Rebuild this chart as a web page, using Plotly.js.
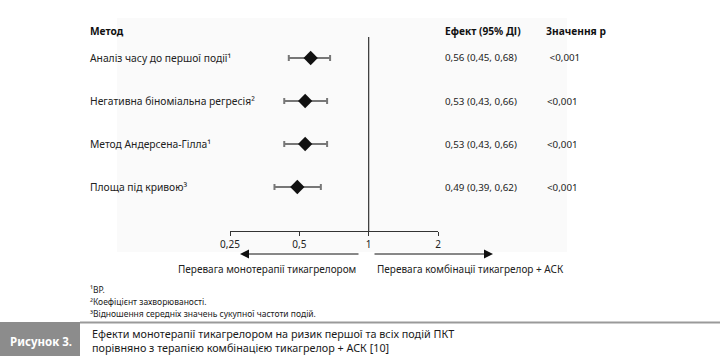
<!DOCTYPE html>
<html>
<head>
<meta charset="utf-8">
<script src="https://cdn.plot.ly/plotly-3.0.1.min.js"></script>
<style>html,body{margin:0;padding:0;background:#fff;}#chart{width:720px;height:356px;}</style>
</head>
<body>
<div id="chart"></div>
<script>
// ---- data ----
const methods = ["Аналіз часу до першої події¹", "Негативна біноміальна регресія²", "Метод Андерсена-Гілла¹", "Площа під кривою³"];
const estimates = [0.56, 0.53, 0.53, 0.49];
const ciLow = [0.45, 0.43, 0.43, 0.39];
const ciHigh = [0.68, 0.66, 0.66, 0.62];
const effectLabels = ["0,56 (0,45, 0,68)", "0,53 (0,43, 0,66)", "0,53 (0,43, 0,66)", "0,49 (0,39, 0,62)"];
const pValues = ["\u00a0<0,001", "<0,001", "<0,001", "<0,001"];
const rowPos = [4, 3, 2, 1];
const tickVals = [0.25, 0.5, 1, 2];
const tickText = ["0,25", "0,5", "1", "2"];
const footnotes = ["¹ВР.", "²Коефіцієнт захворюваності.", "³Відношення середніх значень сукупної частоти подій."];

const W = 720, H = 356;
const px = x => x / W;
const py = y => 1 - y / H;
const FONT = "Noto Sans, Open Sans, sans-serif";

const trace = {
  type: "scatter", mode: "markers",
  x: estimates, y: rowPos,
  marker: {symbol: "diamond", size: 11, color: "#111"},
  error_x: {
    type: "data", symmetric: false,
    array: estimates.map((e, i) => ciHigh[i] - e),
    arrayminus: estimates.map((e, i) => e - ciLow[i]),
    color: "#777", thickness: 2, width: 3
  },
  hoverinfo: "skip", showlegend: false
};

const annotations = [];
const txt = (text, x, y, opts) => Object.assign({
  text, x, y, xref: "paper", yref: "paper", showarrow: false,
  xanchor: "left", yanchor: "middle",
  font: {family: FONT, size: 10.5, color: "#222"}
}, opts || {});
const f = (size, color) => ({family: FONT, size, color: color || "#222"});

annotations.push(txt("<b>Метод</b>", px(88), py(31), {font: f(10.2, "#111")}));
annotations.push(txt("<b>Ефект (95% ДІ)</b>", px(443), py(31), {font: f(10.2, "#111")}));
annotations.push(txt("<b>Значення р</b>", px(544), py(31), {font: f(10.2, "#111")}));

methods.forEach((m, i) => {
  annotations.push(txt(m, px(88), rowPos[i], {yref: "y", font: f(10.3)}));
  annotations.push(txt(effectLabels[i], px(443), rowPos[i], {yref: "y", font: f(9.8)}));
  annotations.push(txt(pValues[i], px(545), rowPos[i], {yref: "y", font: f(9.8)}));
});

// arrows
annotations.push({x: px(240), y: py(254), xref: "paper", yref: "paper", ax: 120, ay: 0,
  showarrow: true, arrowhead: 2, arrowsize: 1.8, arrowwidth: 1, arrowcolor: "#111", text: ""});
annotations.push({x: px(493), y: py(254), xref: "paper", yref: "paper", ax: -120, ay: 0,
  showarrow: true, arrowhead: 2, arrowsize: 1.8, arrowwidth: 1, arrowcolor: "#111", text: ""});
annotations.push(txt("Перевага монотерапії тикагрелором", px(358), py(269), {xanchor: "right", font: f(10)}));
annotations.push(txt("Перевага комбінації тикагрелор + АСК", px(375), py(269), {font: f(10)}));

footnotes.forEach((t, i) => {
  annotations.push(txt(t, px(88), py(289 + i * 12), {font: f(8.5)}));
});

annotations.push(txt("<b>Рисунок 3.</b>", px(8), py(341), {font: f(11.5, "#fff")}));
annotations.push(txt("Ефекти монотерапії тикагрелором на ризик першої та всіх подій ПКТ<br>порівняно з терапією комбінацією тикагрелор + АСК [10]",
  px(90), py(340.5), {align: "left", font: f(10.8, "#1a1a1a")}));

const shapes = [
  {type: "rect", xref: "paper", yref: "paper", x0: px(117), x1: px(567), y0: py(18), y1: py(252),
   fillcolor: "#fafafa", line: {width: 0}, layer: "below"},
  {type: "line", xref: "x", yref: "paper", x0: 1, x1: 1, y0: py(231), y1: py(37),
   line: {color: "#333", width: 1.2}},
  {type: "rect", xref: "paper", yref: "paper", x0: 0, x1: px(80), y0: py(322), y1: 0,
   fillcolor: "#8c8c8c", line: {width: 0}},
  {type: "line", xref: "paper", yref: "paper", x0: px(80), x1: 1, y0: py(322.5), y1: py(322.5),
   line: {color: "#9a9a9a", width: 2}}
];

const yLo = 1 - (231 - 187) / 43, yHi = 4 + (58 - 37) / 43;

const layout = {
  width: W, height: H,
  margin: {l: 0, r: 0, t: 0, b: 0},
  paper_bgcolor: "#fff", plot_bgcolor: "rgba(0,0,0,0)",
  xaxis: {
    type: "log", domain: [px(230), px(438)],
    range: [Math.log10(0.25), Math.log10(2)],
    tickvals: tickVals, ticktext: tickText,
    ticks: "outside", ticklen: 4, tickcolor: "#333", tickwidth: 1,
    showline: true, linecolor: "#333", linewidth: 1,
    showgrid: false, zeroline: false, anchor: "y",
    tickfont: f(10)
  },
  yaxis: {
    domain: [py(231), py(37)], range: [yLo, yHi],
    visible: false, showgrid: false, zeroline: false
  },
  annotations, shapes, showlegend: false
};

Plotly.newPlot("chart", [trace], layout, {staticPlot: true, displayModeBar: false});
</script>
</body>
</html>
